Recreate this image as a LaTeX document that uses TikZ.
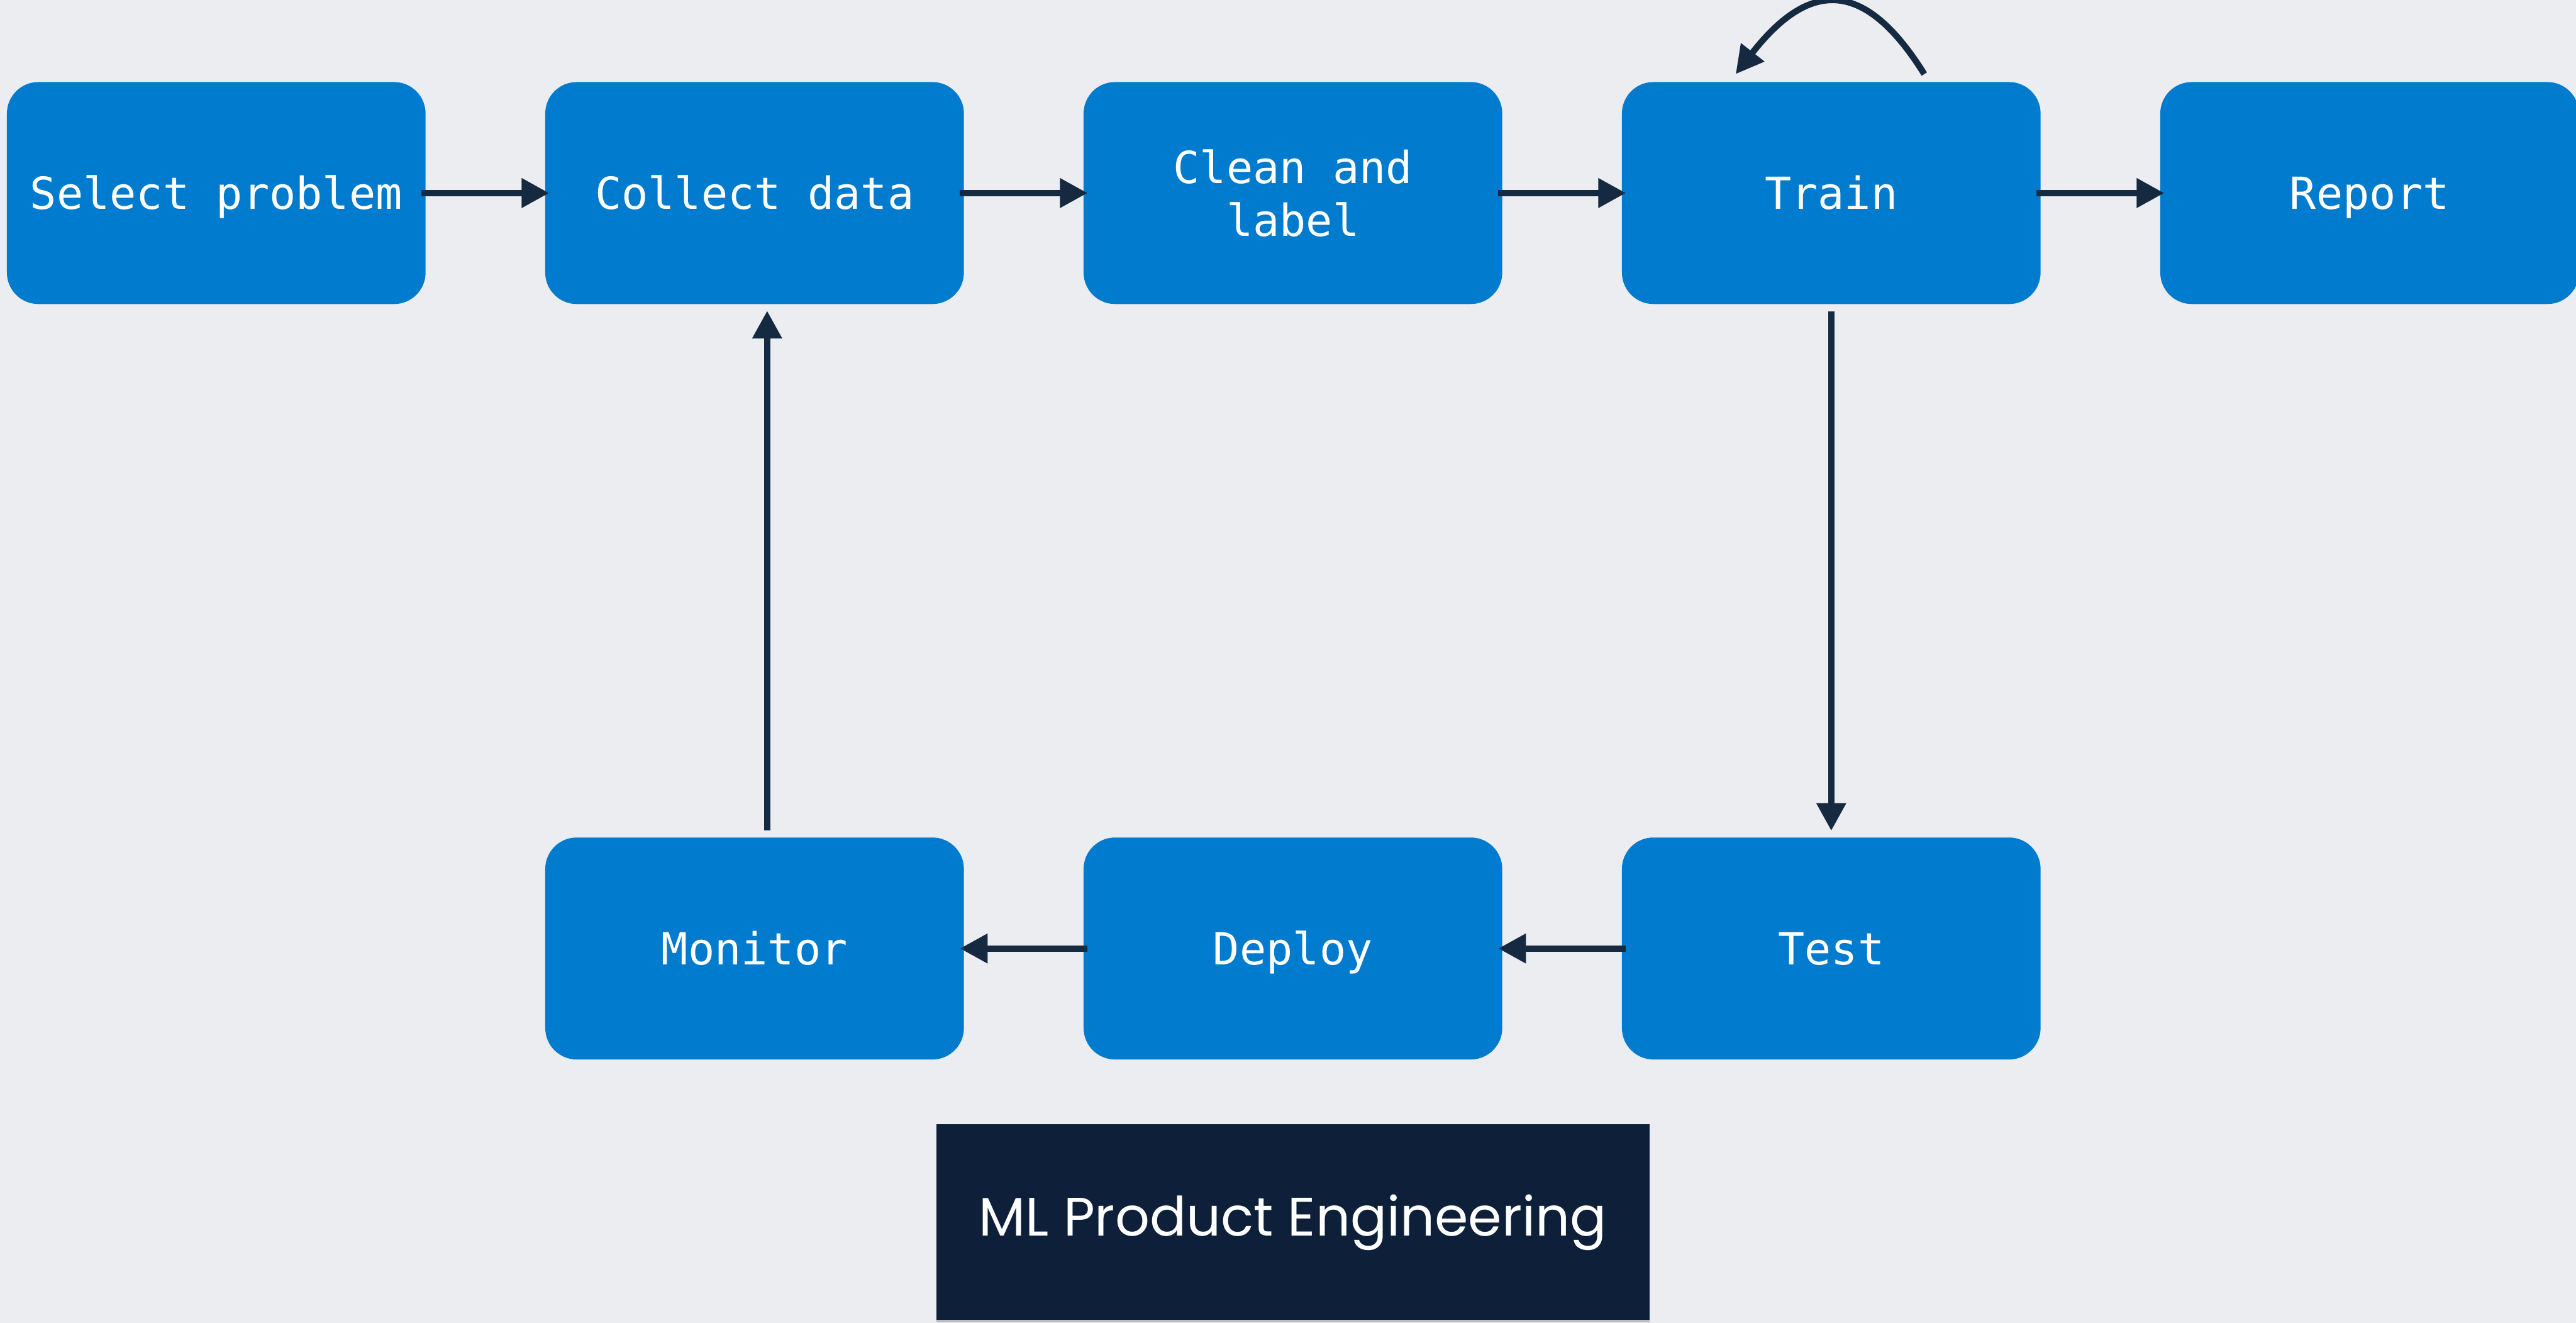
\documentclass[tikz,border=0pt]{standalone}
\usepackage{fontspec}
\setmonofont{DejaVu Sans Mono}
\newfontfamily\poppins{Poppins}
\usetikzlibrary{positioning, arrows.meta, shadows}
\definecolor{canvas}{RGB}{236,237,241}
\definecolor{azure}{RGB}{0,123,206}
\definecolor{navy}{RGB}{21,41,64}
\definecolor{midnight}{RGB}{14,32,57}

\begin{document}
\begin{tikzpicture}[
    stage/.style={rectangle,
        fill=azure,
        text=white,
        rounded corners=0.5cm,
        minimum width=6.66cm,
        minimum height=3.53cm,
        align=center,
        font=\ttfamily\fontsize{20}{24}\selectfont,
        },
    oneline/.style={stage,
        text height=0.66cm,
        text depth=0.15cm,
        },
    flow/.style={draw=navy,
        line width=0.1cm,
        -{Triangle[width=0.45cm, length=0.44cm]},
        },
    across/.style={flow,
        shorten <=-0.07cm,
        shorten >=-0.07cm,
        },
    down/.style={flow,
        shorten <=0.11cm,
        shorten >=0.1cm,
        },
    banner/.style={rectangle,
        fill=midnight,
        text=white,
        minimum width=11.35cm,
        minimum height=3.11cm,
        font=\poppins\fontsize{24.5}{29}\selectfont,
        drop shadow={shadow xshift=0cm, shadow yshift=-0.04cm, opacity=0.2, fill=black},
        },
    node distance=1.89cm and 1.89cm,
    ]
    \fill[canvas] (0,0) rectangle (40.98,-21.04);
    \useasboundingbox (0,0) rectangle (40.98,-21.04);

    % top row
    \node[oneline] (select) at (3.44,-3.07) {Select problem};
    \node[oneline, right=of select] (collect) {Collect data};
    \node[stage, right=of collect] (clean) {Clean and\\label};
    \node[oneline, right=of clean] (train) {Train};
    \node[oneline, right=of train] (report) {Report};

    % bottom row
    \node[oneline, below=8.47cm of train] (test) {Test};
    \node[oneline, left=of test] (deploy) {Deploy};
    \node[oneline, left=of deploy] (monitor) {Monitor};

    \node[banner, below=1.02cm of deploy] (title) {ML Product Engineering};

    \draw[across] (select.east) -- (collect.west);
    \draw[across] (collect.east) -- (clean.west);
    \draw[across] (clean.east) -- (train.west);
    \draw[across] (train.east) -- (report.west);
    \draw[across] (test.west) -- (deploy.east);
    \draw[across] (deploy.west) -- (monitor.east);

    \draw[down] (train.south) -- (test.north);
    \draw[down] ([xshift=0.2cm]monitor.north) -- ([xshift=0.2cm]collect.south);

    % retrain loop
    \draw[flow] ([xshift=1.48cm, yshift=0.12cm]train.north)
        .. controls +(122:1.85) and +(52:1.85) .. ([xshift=-1.52cm, yshift=0.12cm]train.north);

\end{tikzpicture}
\end{document}
